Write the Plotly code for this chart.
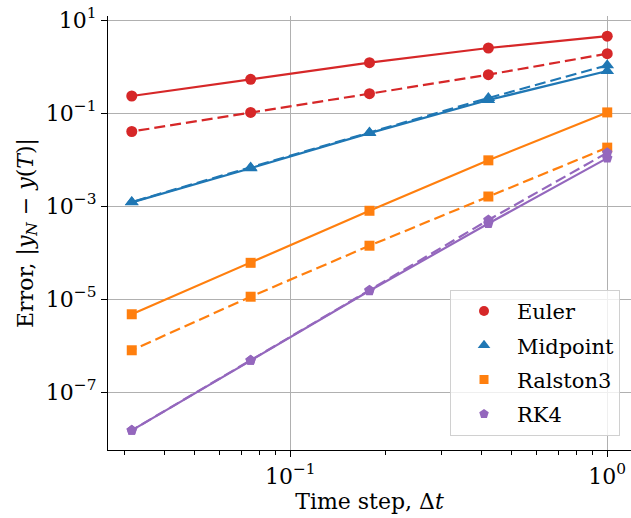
import plotly.graph_objects as go

# ---- data ----
dt = [1.0, 0.4217, 0.1778, 0.07499, 0.03162]

methods = ["Euler", "Midpoint", "Ralston3", "RK4"]
err_solid = {
    "Euler":    [4.5, 2.5, 1.21, 0.53, 0.232],
    "Midpoint": [0.80, 0.19, 0.037, 0.0065, 0.0012],
    "Ralston3": [0.103, 0.0096, 7.9e-4, 6.0e-5, 4.7e-6],
    "RK4":      [0.0107, 4.2e-4, 1.5e-5, 4.8e-7, 1.5e-8],
}
err_dashed = {
    "Euler":    [1.89, 0.667, 0.26, 0.103, 0.04],
    "Midpoint": [1.06, 0.21, 0.038, 0.0067, 0.00122],
    "Ralston3": [0.018, 1.6e-3, 1.4e-4, 1.12e-5, 7.9e-7],
    "RK4":      [0.014, 5.0e-4, 1.55e-5, 4.8e-7, 1.5e-8],
}

colors = {"Euler": "#d62728", "Midpoint": "#1f77b4", "Ralston3": "#ff7f0e", "RK4": "#9467bd"}
symbols = {"Euler": "circle", "Midpoint": "triangle-up", "Ralston3": "square", "RK4": "pentagon"}
msizes = {"Euler": 11, "Midpoint": 12, "Ralston3": 10, "RK4": 11}

y_tickvals = [1e1, 1e-1, 1e-3, 1e-5, 1e-7]
y_ticktext = ["10<sup>1</sup>", "10<sup>−1</sup>", "10<sup>−3</sup>", "10<sup>−5</sup>", "10<sup>−7</sup>"]
x_tickvals = [0.1, 1.0]
x_ticktext = ["10<sup>−1</sup>", "10<sup>0</sup>"]
x_minor = [0.03, 0.04, 0.05, 0.06, 0.07, 0.08, 0.09,
           0.2, 0.3, 0.4, 0.5, 0.6, 0.7, 0.8, 0.9]

FONT = "DejaVu Serif"
FS = 22

fig = go.Figure()
for m in methods:
    c = colors[m]
    fig.add_trace(go.Scatter(
        x=dt, y=err_solid[m], mode="lines+markers", showlegend=False,
        line=dict(color=c, width=2.2),
        marker=dict(symbol=symbols[m], size=msizes[m], color=c),
    ))
    fig.add_trace(go.Scatter(
        x=dt, y=err_dashed[m], mode="lines+markers", showlegend=False,
        line=dict(color=c, width=2.2, dash="11px,5px"),
        marker=dict(symbol=symbols[m], size=msizes[m], color=c),
    ))

# legend-only entries (markers only, as in the reference)
for m in methods:
    fig.add_trace(go.Scatter(
        x=[None], y=[None], mode="markers", name=m, legendgroup=m,
        marker=dict(symbol=symbols[m], size=msizes[m] - 1, color=colors[m]),
    ))

fig.update_layout(
    width=631, height=518,
    margin=dict(l=108, r=0, t=16, b=68),
    paper_bgcolor="white", plot_bgcolor="white",
    font=dict(family=FONT, size=FS, color="black"),
    legend=dict(
        x=0.979, xanchor="right", y=0.369, yanchor="top",
        bgcolor="rgba(255,255,255,0.8)", bordercolor="#d0d0d0", borderwidth=1,
        font=dict(family=FONT, size=21, color="black"),
        tracegroupgap=4, traceorder="grouped", itemwidth=56,
    ),
)
fig.update_xaxes(
    type="log", range=[-1.575, 0.075], automargin=False,
    tickmode="array", tickvals=x_tickvals, ticktext=x_ticktext,
    tickfont=dict(family=FONT, size=FS),
    showgrid=True, gridcolor="#b0b0b0", gridwidth=1,
    showline=True, linecolor="black", linewidth=1.2,
    ticks="outside", ticklen=6, tickwidth=1.2, tickcolor="black",
    minor=dict(tickmode="array", tickvals=x_minor, ticks="outside",
               ticklen=3.5, tickwidth=1, tickcolor="black", showgrid=False),
    zeroline=False,
    title=dict(text="Time step, Δ<i>t</i>", font=dict(family=FONT, size=FS), standoff=6),
)
fig.update_yaxes(
    type="log", range=[-8.247, 1.086], automargin=False,
    tickmode="array", tickvals=y_tickvals, ticktext=y_ticktext,
    tickfont=dict(family=FONT, size=FS),
    showgrid=True, gridcolor="#b0b0b0", gridwidth=1,
    showline=True, linecolor="black", linewidth=1.2,
    ticks="outside", ticklen=6, tickwidth=1.2, tickcolor="black",
    zeroline=False,
    title=dict(text="Error, |<i>y</i><sub><i>N</i></sub> − <i>y</i>(<i>T</i>)|",
               font=dict(family=FONT, size=FS), standoff=6),
)

fig.write_html("out.html", config={"displayModeBar": False},
               post_script="document.body.style.margin='0';")
